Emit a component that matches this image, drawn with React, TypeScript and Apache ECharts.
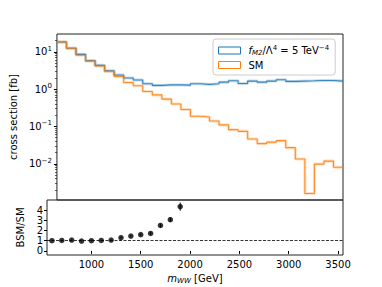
import { useEffect, useRef } from 'react';
import * as echarts from 'echarts';

const binEdges = [550, 650, 750, 850, 950, 1050, 1150, 1250, 1350, 1450, 1550, 1650, 1750, 1850, 1950, 2050, 2150, 2250, 2350, 2450, 2550, 2650, 2750, 2850, 2950, 3050, 3150, 3250, 3350, 3450, 3550];
const bsmXsec = [18.3, 12.4, 8.56, 5.8, 4.34, 3.1, 2.38, 1.98, 1.75, 1.4, 1.26, 1.3, 1.3, 1.28, 1.39, 1.34, 1.39, 1.54, 1.67, 1.42, 1.64, 1.54, 1.64, 1.78, 1.61, 1.64, 1.67, 1.71, 1.71, 1.64];
const smXsec = [18.3, 12.4, 8.05, 5.66, 4.15, 2.99, 2.19, 1.51, 1.23, 0.86, 0.7, 0.54, 0.4, 0.284, 0.188, 0.18, 0.14, 0.11, 0.082, 0.074, 0.046, 0.0347, 0.038, 0.0417, 0.027, 0.0134, 0.0016, 0.0098, 0.0118, 0.0081];
const ratioX = [600, 700, 800, 900, 1000, 1100, 1200, 1300, 1400, 1500, 1600, 1700, 1800, 1900];
const ratioY = [1.0, 1.03, 1.07, 0.97, 1.0, 1.03, 1.07, 1.3, 1.46, 1.6, 1.72, 2.5, 3.07, 4.35];
const ratioErr = [0.03, 0.03, 0.04, 0.04, 0.04, 0.05, 0.06, 0.07, 0.08, 0.1, 0.12, 0.17, 0.22, 0.4];
const xTicks = [1000, 1500, 2000, 2500, 3000, 3500];
const logMajorTicks = [0.01, 0.1, 1, 10];
const logMinorTicks = [0.002, 0.003, 0.004, 0.005, 0.006, 0.007, 0.008, 0.009, 0.02, 0.03, 0.04, 0.05, 0.06, 0.07, 0.08, 0.09, 0.2, 0.3, 0.4, 0.5, 0.6, 0.7, 0.8, 0.9, 2, 3, 4, 5, 6, 7, 8, 9, 20];
const ratioTicks = [0, 1, 2, 3, 4];

const FONT = 'DejaVu Sans';
const BLUE = '#1f77b4';
const ORANGE = '#ff7f0e';

function stepData(vals: number[]) {
  const d: number[][] = vals.map((v, i) => [binEdges[i], v]);
  d.push([binEdges[binEdges.length - 1], vals[vals.length - 1]]);
  return d;
}

function buildOption() {
  const supStyle = { fontSize: 7, fontFamily: FONT, color: '#000', padding: [0, 0, 6, 0] };
  const baseStyle = { fontSize: 10, fontFamily: FONT, color: '#000' };
  return {
    animation: false,
    textStyle: { fontFamily: FONT },
    grid: [
      { left: 47, top: 34, width: 296, height: 166, show: true, borderColor: '#222', borderWidth: 1, backgroundColor: 'transparent' },
      { left: 47, top: 200, width: 296, height: 55, show: true, borderColor: '#222', borderWidth: 1, backgroundColor: 'transparent' },
    ],
    legend: {
      orient: 'vertical',
      left: 213,
      top: 39,
      width: 125,
      padding: [5, 6, 5, 5],
      itemGap: 4,
      itemWidth: 22,
      itemHeight: 7,
      backgroundColor: 'rgba(255,255,255,0.8)',
      borderColor: '#cccccc',
      borderWidth: 1,
      borderRadius: 3,
      data: [
        { name: 'BSM', icon: 'rect', itemStyle: { color: 'rgba(0,0,0,0)', borderColor: BLUE, borderWidth: 1 } },
        { name: 'SM', icon: 'rect', itemStyle: { color: 'rgba(0,0,0,0)', borderColor: ORANGE, borderWidth: 1 } },
      ],
      formatter: (name: string) =>
        name === 'BSM' ? '{i|f}{isub|M2}{n|/Λ}{sup|4}{n| = 5 TeV}{sup|−4}' : '{n|SM}',
      textStyle: {
        fontSize: 10,
        fontFamily: FONT,
        color: '#000',
        padding: [0, 0, 0, 3],
        rich: {
          n: baseStyle,
          i: { ...baseStyle, fontStyle: 'italic' },
          isub: { fontSize: 7, fontFamily: FONT, fontStyle: 'italic', color: '#000', padding: [4, 0, 0, 0] },
          sup: supStyle,
        },
      },
    },
    xAxis: [
      {
        type: 'value', gridIndex: 0, min: 550, max: 3550,
        axisLine: { show: false }, axisTick: { show: false }, axisLabel: { show: false }, splitLine: { show: false },
      },
      {
        type: 'value', gridIndex: 1, min: 550, max: 3550,
        axisLine: { show: false },
        axisTick: { show: true, customValues: xTicks, length: 3, lineStyle: { color: '#000' } },
        axisLabel: { show: true, customValues: xTicks, fontSize: 10, fontFamily: FONT, color: '#000', margin: 4, formatter: (v: number) => String(v) },
        splitLine: { show: false },
        name: '{i|m}{s|WW} [GeV]',
        nameLocation: 'middle',
        nameGap: 18,
        nameTextStyle: {
          fontSize: 10, fontFamily: FONT, color: '#000',
          rich: {
            i: { fontSize: 10, fontFamily: FONT, fontStyle: 'italic', color: '#000' },
            s: { fontSize: 7, fontFamily: FONT, fontStyle: 'italic', color: '#000', padding: [4, 0, 0, 0] },
          },
        },
      },
    ],
    yAxis: [
      {
        type: 'log', gridIndex: 0, min: 0.00107, max: 30, position: 'left',
        axisLine: { show: false },
        axisTick: { show: true, customValues: logMajorTicks, length: 3, lineStyle: { color: '#000' } },
        axisLabel: {
          show: true, customValues: logMajorTicks, margin: 5,
          formatter: (v: number) => {
            const e = Math.round(Math.log10(v));
            return '{b|10}{s|' + (e < 0 ? '−' + -e : String(e)) + '}';
          },
          rich: { b: baseStyle, s: supStyle },
        },
        splitLine: { show: false },
        name: 'cross section [fb]',
        nameLocation: 'middle',
        nameGap: 32,
        nameTextStyle: { fontSize: 10, fontFamily: FONT, color: '#000' },
      },
      {
        type: 'log', gridIndex: 0, min: 0.00107, max: 30, position: 'left',
        axisLine: { show: false },
        axisTick: { show: true, customValues: logMinorTicks, length: 2, lineStyle: { color: '#000', width: 0.6 } },
        axisLabel: { show: false },
        splitLine: { show: false },
      },
      {
        type: 'value', gridIndex: 1, min: -0.4, max: 5, position: 'left',
        axisLine: { show: false },
        axisTick: { show: true, customValues: ratioTicks, length: 3, lineStyle: { color: '#000' } },
        axisLabel: { show: true, customValues: ratioTicks, fontSize: 10, fontFamily: FONT, color: '#000', margin: 4 },
        splitLine: { show: false },
        name: 'BSM/SM',
        nameLocation: 'middle',
        nameGap: 15,
        nameTextStyle: { fontSize: 10, fontFamily: FONT, color: '#000' },
      },
    ],
    series: [
      {
        name: 'BSMband', type: 'line', xAxisIndex: 0, yAxisIndex: 0, step: 'end', symbol: 'none',
        data: stepData(bsmXsec), lineStyle: { color: BLUE, width: 3, opacity: 0.25 }, z: 1, silent: true,
      },
      {
        name: 'SMband', type: 'line', xAxisIndex: 0, yAxisIndex: 0, step: 'end', symbol: 'none',
        data: stepData(smXsec), lineStyle: { color: ORANGE, width: 3, opacity: 0.25 }, z: 1, silent: true,
      },
      {
        name: 'BSM', type: 'line', xAxisIndex: 0, yAxisIndex: 0, step: 'end', symbol: 'none',
        data: stepData(bsmXsec), lineStyle: { color: BLUE, width: 1.1, opacity: 0.85 }, itemStyle: { color: BLUE }, z: 2,
      },
      {
        name: 'SM', type: 'line', xAxisIndex: 0, yAxisIndex: 0, step: 'end', symbol: 'none',
        data: stepData(smXsec), lineStyle: { color: ORANGE, width: 1.1, opacity: 0.85 }, itemStyle: { color: ORANGE }, z: 3,
      },
      {
        name: 'ratio', type: 'scatter', xAxisIndex: 1, yAxisIndex: 2, symbol: 'circle', symbolSize: 5.5,
        itemStyle: { color: '#000' },
        data: ratioX.map((x, i) => [x, ratioY[i]]),
        z: 4,
        markLine: {
          silent: true, symbol: 'none', label: { show: false },
          lineStyle: { type: [3, 1.5], color: '#000', width: 0.8 },
          data: [{ yAxis: 1 }],
        },
      },
      {
        name: 'ratioErr', type: 'custom', xAxisIndex: 1, yAxisIndex: 2,
        data: ratioX.map((x, i) => [x, ratioY[i], ratioErr[i]]),
        encode: { x: 0, y: 1 },
        renderItem: (params: any, api: any) => {
          const x = api.value(0);
          const y = api.value(1);
          const e = api.value(2);
          const a = api.coord([x, y + e]);
          const b = api.coord([x, y - e]);
          return { type: 'line', shape: { x1: a[0], y1: a[1], x2: b[0], y2: b[1] }, style: { stroke: '#000', lineWidth: 1 } };
        },
        z: 5,
      },
    ],
  };
}

export default function App() {
  const ref = useRef<HTMLDivElement>(null);
  useEffect(() => {
    const chart = echarts.init(ref.current!, null, { renderer: 'svg' });
    chart.setOption(buildOption() as any);
    return () => chart.dispose();
  }, []);
  return <div ref={ref} style={{ position: 'fixed', left: 0, top: 0, width: 382, height: 287, background: '#fff' }} />;
}
